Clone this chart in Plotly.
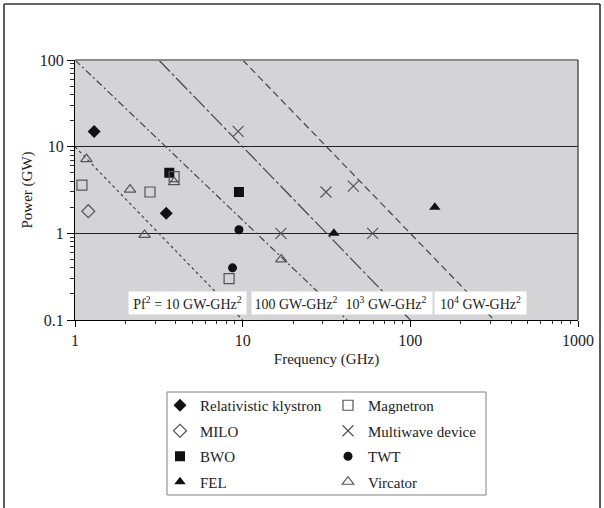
import plotly.graph_objects as go

# ---------------- data ----------------
klystron_f = [1.3, 3.5]
klystron_p = [15, 1.7]
milo_f = [1.2]
milo_p = [1.8]
bwo_f = [3.65, 9.5]
bwo_p = [5.0, 3.0]
fel_f = [35, 140]
fel_p = [1.0, 2.0]
magnetron_f = [1.1, 2.8, 3.9, 8.3]
magnetron_p = [3.6, 3.0, 4.5, 0.3]
multiwave_f = [9.4, 16.9, 31.4, 45.7, 59.6]
multiwave_p = [15, 1.0, 3.0, 3.5, 1.0]
twt_f = [9.5, 8.7]
twt_p = [1.1, 0.4]
vircator_f = [1.17, 2.13, 3.9, 2.6, 17]
vircator_p = [7.2, 3.2, 3.9, 0.96, 0.5]

# constant Pf^2 lines (end points as drawn)
line_names = ["10", "100", "1e3", "1e4"]
line_f = [[1, 10], [1, 42], [3.16, 100], [10, 316]]
line_p = [[10, 0.1], [100, 0.1], [100, 0.1], [100, 0.1]]
line_labels = ["Pf<sup>2</sup> = 10 GW-GHz<sup>2</sup>", "100 GW-GHz<sup>2</sup>",
               "10<sup>3</sup> GW-GHz<sup>2</sup>", "10<sup>4</sup> GW-GHz<sup>2</sup>"]

x_ticks = [1, 10, 100, 1000]
x_ticktext = ["1", "10", "100", "1000"]
y_ticks = [0.1, 1, 10, 100]
y_ticktext = ["0.1", "1", "10", "100"]

# ---------------- layout geometry ----------------
W, H = 604, 508
L, R, T, B = 75, 26, 60, 188
pw, ph = W - L - R, H - T - B
def px2x(p): return (p - L) / pw
def py2y(p): return (H - B - p) / ph

FONT = "Liberation Serif, Times New Roman, serif"
DARK = "#111111"
GRAY = "#555555"
TXT = "#222222"

fig = go.Figure()

dashes = ["3px,3px", "7px,3px,2px,3px", "16px,3px,3px,3px", "7px,4px"]
for f, p, d in zip(line_f, line_p, dashes):
    fig.add_trace(go.Scatter(x=f, y=p, mode="lines", showlegend=False, hoverinfo="skip",
                             line=dict(color="#444444", width=1.2, dash=d)))

def add(name, fx, fy, symbol, size, color, lw, legend, group):
    fig.add_trace(go.Scatter(
        x=fx, y=fy, mode="markers", name=name, legend=legend, legendgroup=group,
        marker=dict(symbol=symbol, size=size, color=color,
                    line=dict(color=color, width=lw))))

add("Relativistic klystron", klystron_f, klystron_p, "diamond", 10, DARK, 0, "legend", "a")
add("MILO", milo_f, milo_p, "diamond-open", 10, GRAY, 1.2, "legend", "b")
add("BWO", bwo_f, bwo_p, "square", 10, DARK, 0, "legend", "c")
add("FEL", fel_f, fel_p, "triangle-up", 10, DARK, 0, "legend", "d")
add("Magnetron", magnetron_f, magnetron_p, "square-open", 10, GRAY, 1.2, "legend2", "e")
add("Multiwave device", multiwave_f, multiwave_p, "x-thin-open", 11, GRAY, 1.2, "legend2", "f")
add("TWT", twt_f, twt_p, "circle", 9, DARK, 0, "legend2", "g")
add("Vircator", vircator_f, vircator_p, "triangle-up-open", 10, GRAY, 1.2, "legend2", "h")

# label boxes
box_cx = [187.5, 296, 386, 480.5]
box_w = [117, 88, 92, 91]
for txt, cx, w in zip(line_labels, box_cx, box_w):
    fig.add_annotation(xref="paper", yref="paper", x=px2x(cx), y=py2y(303),
                       xanchor="center", yanchor="middle", text=txt, showarrow=False,
                       width=w, height=22, bgcolor="white", borderpad=0,
                       font=dict(family=FONT, size=14, color=TXT))

shapes = [
    dict(type="line", xref="paper", yref="paper", x0=0, x1=1, y0=1, y1=1,
         line=dict(color="#8a8a8a", width=2.2), layer="above"),
    dict(type="line", xref="paper", yref="paper", x0=1, x1=1, y0=0, y1=1,
         line=dict(color="#555555", width=1.5), layer="above"),
    dict(type="rect", xref="paper", yref="paper", x0=px2x(167), x1=px2x(486),
         y0=py2y(495), y1=py2y(392), line=dict(color="#808080", width=1)),
    dict(type="line", xref="paper", yref="paper", x0=px2x(4), x1=px2x(4),
         y0=py2y(4), y1=py2y(510), line=dict(color="#333333", width=1.6)),
    dict(type="line", xref="paper", yref="paper", x0=px2x(4), x1=px2x(600),
         y0=py2y(4), y1=py2y(4), line=dict(color="#333333", width=1.6)),
    dict(type="line", xref="paper", yref="paper", x0=px2x(600), x1=px2x(600),
         y0=py2y(4), y1=py2y(510), line=dict(color="#333333", width=1.6)),
]

legend_common = dict(bgcolor="rgba(0,0,0,0)", borderwidth=0, tracegroupgap=3,
                     font=dict(family=FONT, size=15, color=TXT),
                     xanchor="left", yanchor="top", itemsizing="trace")

fig.update_layout(
    width=W, height=H, margin=dict(l=L, r=R, t=T, b=B, autoexpand=False),
    paper_bgcolor="white", plot_bgcolor="#d4d4d6",
    font=dict(family=FONT, size=14, color=TXT),
    shapes=shapes,
    legend=dict(x=px2x(160), y=py2y(389), **legend_common),
    legend2=dict(x=px2x(328), y=py2y(389), **legend_common),
    xaxis=dict(type="log", range=[0, 3], tickvals=x_ticks, ticktext=x_ticktext,
               showline=True, linecolor="black", linewidth=1.2, ticks="outside",
               ticklen=6, tickcolor="black", showgrid=False, zeroline=False,
               minor=dict(ticks="outside", ticklen=3, tickcolor="#333333", dtick="D1", showgrid=False),
               title=dict(text="Frequency (GHz)", standoff=5, font=dict(family=FONT, size=15, color=TXT)),
               tickfont=dict(family=FONT, size=16, color=TXT)),
    yaxis=dict(type="log", range=[-1, 2], tickvals=y_ticks, ticktext=y_ticktext,
               showline=True, linecolor="black", linewidth=1.2, ticks="outside",
               ticklen=7, tickcolor="black", showgrid=True, gridcolor="#222222", gridwidth=1,
               zeroline=False,
               minor=dict(ticks="outside", ticklen=4, tickcolor="#333333", dtick="D1", showgrid=False),
               title=dict(text="Power (GW)", standoff=3, font=dict(family=FONT, size=15, color=TXT)),
               tickfont=dict(family=FONT, size=16, color=TXT)),
)

fig.write_html("out.html", config={"displayModeBar": False},
               post_script="document.body.style.margin='0px';")
